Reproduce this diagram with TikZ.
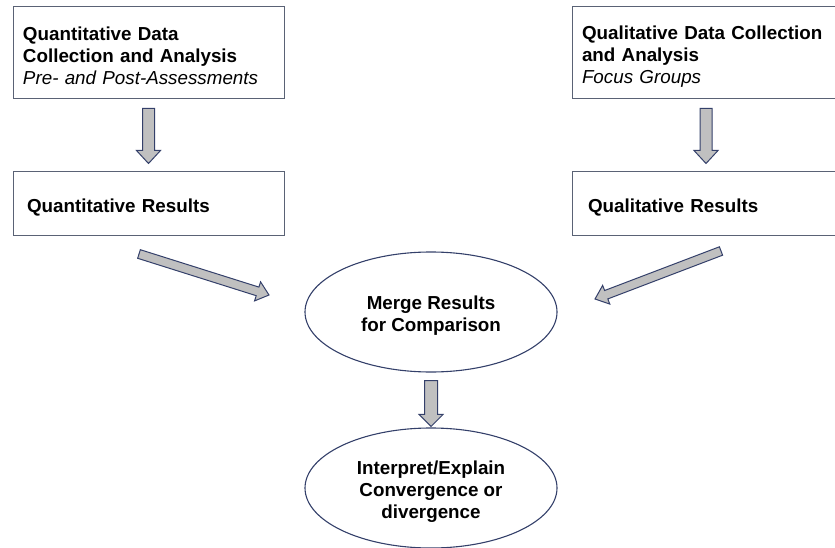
\documentclass[tikz,border=0pt]{standalone}
\usepackage{fontspec}
\setmainfont{Liberation Sans}
\usetikzlibrary{calc,shapes.geometric}
\definecolor{boxline}{HTML}{5A6275}
\definecolor{navy}{HTML}{34406A}
\definecolor{arrowfill}{HTML}{C0C0C0}
% #1 tail, #2 tip, #3 shaft half width, #4 head half width, #5 head length
\newcommand\fatarrow[5]{%
  \coordinate (fah) at ($(#2)!#5!(#1)$);
  \draw[blockarrow] ($(#1)!#3!90:(#2)$) -- ($(fah)!#3!90:(#2)$) -- ($(fah)!#4!90:(#2)$)
    -- (#2) -- ($(fah)!#4!-90:(#2)$) -- ($(fah)!#3!-90:(#2)$) -- ($(#1)!#3!-90:(#2)$) -- cycle;}
\newcommand\topstrut[1]{\rule{0pt}{#1}}
\begin{document}
\begin{tikzpicture}[x=1pt,y=-1pt,
  font=\fontsize{18.8}{22}\selectfont\bfseries,
  box/.style={draw=boxline, line width=1pt, rectangle, inner xsep=10pt, inner ysep=0pt, align=left},
  resbox/.style={box, inner xsep=0pt},
  oval/.style={draw=navy, line width=1.1pt, ellipse, inner sep=0pt, minimum width=252pt, minimum height=120pt, align=center},
  blockarrow/.style={draw=navy, fill=arrowfill, line width=1pt, line join=miter}]
\useasboundingbox (0,0) rectangle (835,548);
\clip (0,0) rectangle (835,548);
\node[box, text width=251pt, minimum height=92pt] (qn) at (148.5,53)
  {\topstrut{20pt}Quantitative Data\\Collection and Analysis\\{\mdseries\itshape Pre- and Post-Assessments}};
\node[box, text width=248pt, minimum height=92pt] (ql) at (706,53)
  {\topstrut{20pt}Qualitative Data Collection\\and Analysis\\{\mdseries\itshape Focus Groups}};
\node[resbox, text width=271pt, minimum height=63pt] (qnr) at (148.5,203.5)
  {\hspace*{14pt}\topstrut{22pt}Quantitative Results};
\node[resbox, text width=268pt, minimum height=63pt] (qlr) at (706,203.5)
  {\hspace*{16pt}\topstrut{22pt}Qualitative Results};
\node[oval] (merge) at (431,312) {\topstrut{20pt}Merge Results\\for Comparison};
\node[oval] (interp) at (431,488) {\topstrut{20pt}Interpret/Explain\\Convergence or\\divergence};
% connector end points
\coordinate (a1s) at ($(qn.south)+(0,9)$);
\coordinate (a1e) at ($(qnr.north)+(0,-8)$);
\coordinate (a2s) at ($(ql.south)+(0,9)$);
\coordinate (a2e) at ($(qlr.north)+(0,-8)$);
\coordinate (a3s) at (139,254);
\coordinate (a3e) at (269,295);
\coordinate (a4s) at (721,251);
\coordinate (a4e) at (595,299);
\coordinate (a5s) at ($(merge.south)+(0,8)$);
\coordinate (a5e) at ($(interp.north)+(0,-1)$);
\fatarrow{a1s}{a1e}{6pt}{12pt}{13pt}
\fatarrow{a2s}{a2e}{6pt}{12pt}{13pt}
\fatarrow{a3s}{a3e}{4.5pt}{10pt}{12pt}
\fatarrow{a4s}{a4e}{4.5pt}{10pt}{12pt}
\fatarrow{a5s}{a5e}{6.5pt}{12pt}{12pt}
\end{tikzpicture}
\end{document}
